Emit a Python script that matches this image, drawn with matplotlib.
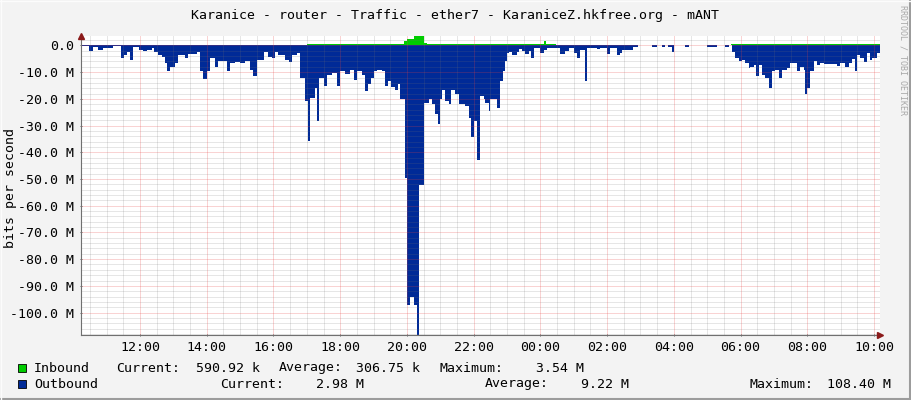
import matplotlib
matplotlib.use("Agg")
import matplotlib.pyplot as plt
import numpy as np
from matplotlib.patches import Rectangle
from matplotlib.lines import Line2D
from matplotlib.ticker import FixedLocator, FuncFormatter

# ---------------- data (hours since midnight of day 1, values in Mbit/s) -------------
title = "Karanice - router - Traffic - ether7 - KaraniceZ.hkfree.org - mANT"
x_start, x_end = 10.23, 34.18

out_t = [10.23, 10.48, 10.60, 10.75, 10.90, 11.20, 11.42, 11.53, 11.60, 11.70, 11.80, 11.98,
         12.10, 12.20, 12.35, 12.42, 12.55, 12.65, 12.75, 12.82, 12.90, 13.05, 13.15, 13.35,
         13.45, 13.70, 13.80, 13.90, 14.00, 14.10,
         14.25, 14.35, 14.60, 14.70, 14.85, 15.00, 15.15, 15.30, 15.40, 15.50, 15.73, 15.85,
         15.95, 16.05, 16.15, 16.35, 16.45, 16.55, 16.70, 16.80, 16.95, 17.03, 17.10, 17.23,
         17.30, 17.37, 17.50, 17.60, 17.75, 17.90, 18.00, 18.15,
         18.30, 18.42, 18.50, 18.65, 18.75, 18.82, 18.92, 19.02, 19.10, 19.25, 19.35, 19.42,
         19.52, 19.65, 19.72, 19.80, 19.93, 20.01, 20.10, 20.22, 20.29, 20.37, 20.52, 20.65,
         20.75, 20.85, 20.92, 21.00, 21.05, 21.15, 21.25, 21.32, 21.45, 21.55, 21.75, 21.85,
         21.92, 22.02, 22.10, 22.20, 22.30,
         22.35, 22.45, 22.50, 22.70, 22.80, 22.87, 22.95, 23.00, 23.05, 23.15, 23.30, 23.35,
         23.45, 23.55, 23.65, 23.72, 23.82, 24.00, 24.10, 24.20, 24.60, 24.75, 24.85, 25.00,
         25.10, 25.20, 25.33, 25.40, 25.70, 25.80, 26.00, 26.10, 26.30,
         26.39, 26.44, 26.79, 26.94, 27.34, 27.49, 27.64, 27.74, 27.84, 27.94, 28.01, 28.34,
         28.44, 28.99, 29.29, 29.54, 29.64, 29.74, 29.84, 29.94, 30.04, 30.14, 30.24,
         30.29, 30.39, 30.47, 30.54, 30.64, 30.74, 30.84, 30.94, 31.04, 31.14, 31.24, 31.39,
         31.49, 31.69, 31.79, 31.89, 31.94, 31.99, 32.09, 32.19, 32.29, 32.39, 32.49, 32.89,
         32.99, 33.14, 33.24, 33.34, 33.44, 33.49, 33.59, 33.69, 33.79, 33.87, 33.94, 34.09]
out_mbps = [0.3, 2.0, 0.5, 1.7, 0.8, 0.1, 4.8, 3.5, 2.3, 5.4, 0.5, 1.7,
            2.1, 1.7, 0.9, 2.3, 3.5, 4.2, 6.6, 9.4, 7.9, 6.6, 3.6, 4.6,
            3.3, 2.3, 9.7, 12.4, 9.7, 4.8,
            7.9, 6.0, 9.7, 6.6, 6.3, 6.6, 5.8, 9.1, 11.3, 5.4, 2.6, 4.2,
            4.8, 2.6, 3.6, 5.4, 6.3, 3.6, 3.0, 12.2, 20.8, 35.6, 19.6, 15.9,
            28.2, 12.2, 15.3, 11.0, 10.3, 15.3, 9.7, 10.7,
            9.1, 12.8, 9.7, 11.0, 17.1, 14.6, 12.2, 9.7, 9.1, 9.7, 15.3, 13.4,
            15.6, 16.5, 14.6, 20.2, 49.5, 97.0, 94.0, 97.0, 108.4, 52.4, 21.4, 20.2,
            22.0, 25.7, 29.4, 20.2, 16.5, 20.8, 22.0, 16.5, 18.3, 22.0, 22.6, 27.0,
            34.3, 28.2, 43.0, 19.0, 20.2,
            21.4, 24.5, 20.2, 23.3, 13.4, 9.7, 6.0, 3.0, 2.6, 3.6, 2.3, 1.4,
            2.1, 3.3, 2.1, 4.6, 1.1, 3.0, 1.7, 0.9, 3.3, 2.1, 0.9, 3.0,
            4.6, 1.7, 13.2, 0.9, 1.3, 0.9, 3.3, 1.1, 3.6,
            3.0, 1.7, 0.5, 0.0, 0.4, 0.0, 0.4, 0.0, 0.4, 2.3, 0.0, 0.4,
            0.0, 0.4, 0.0, 0.4, 0.0, 2.3, 4.8, 5.8, 5.4, 6.6, 8.5,
            8.2, 7.3, 11.6, 7.3, 11.0, 12.2, 15.9, 9.7, 9.1, 12.2, 9.1, 8.5,
            6.6, 9.7, 7.9, 9.1, 18.1, 15.9, 9.7, 6.0, 7.3, 6.6, 7.0, 7.6,
            6.6, 7.9, 6.6, 5.0, 9.7, 3.6, 4.6, 6.3, 3.0, 5.4, 4.8, 3.0]

in_t = [10.23, 11.20, 12.00, 13.00, 17.00, 19.90, 20.01, 20.22, 20.52, 20.60, 24.12, 24.18,
        24.42, 24.47, 26.94, 29.70]
in_mbps = [0.1, 0.25, 0.2, 0.3, 0.4, 1.5, 2.6, 3.54, 0.8, 0.45, 1.6, 0.4,
           0.6, 0.3, 0.0, 0.4]

legend_rows = [
    ("Inbound", "#00CC00", [("Current:", 116), ("590.92 k", 196), ("Average:", 279),
                             ("306.75 k", 356), ("Maximum:", 440), ("3.54 M", 536)]),
    ("Outbound", "#002A97", [("Current:", 220), ("2.98 M", 316), ("Average:", 485),
                              ("9.22 M", 581), ("Maximum:", 750), ("108.40 M", 827)]),
]

# ---------------- figure ----------------
W, H = 911, 400
MONO = "DejaVu Sans Mono"
plt.rcParams["font.family"] = MONO
fig = plt.figure(figsize=(W / 100, H / 100), dpi=100, facecolor="#F3F3F3")
L, R, T, B = 81, 880, 36, 335
ax = fig.add_axes([L / W, 1 - B / H, (R - L) / W, (B - T) / H])
ax.set_facecolor("white")

ot = np.array(out_t + [x_end])
ov = -np.array(out_mbps + [out_mbps[-1]])
it = np.array(in_t + [x_end])
iv = np.array(in_mbps + [in_mbps[-1]])

ax.fill_between(ot, ov, 0, step="post", color="#002A97", lw=0, zorder=2)
ax.fill_between(it, iv, 0, step="post", color="#00CC00", lw=0, zorder=2)

ax.set_xlim(x_start, x_end)
ax.set_ylim(-max(out_mbps), max(in_mbps))

# grid
minor_c = (0.45, 0.45, 0.45, 0.35)
major_c = (0.9, 0.25, 0.25, 0.45)
dot = (0, (1, 1))
for h in np.arange(10.5, x_end, 0.5):
    if abs(h % 2) < 1e-6:
        continue
    ax.axvline(h, color=minor_c, lw=0.72, ls=dot, zorder=3)
for v in np.arange(-108, 3.6, 2):
    if abs(v % 10) < 1e-6:
        continue
    ax.axhline(v, color=minor_c, lw=0.72, ls=dot, zorder=3)
for h in np.arange(12, x_end, 2):
    ax.axvline(h, color=major_c, lw=0.72, ls=dot, zorder=3)
for v in np.arange(-100, 1, 10):
    ax.axhline(v, color=major_c, lw=0.72, ls=dot, zorder=3)

ax.xaxis.set_major_locator(FixedLocator(np.arange(12, x_end, 2)))
ax.xaxis.set_major_formatter(FuncFormatter(lambda h, p: "%02d:00" % (int(round(h)) % 24)))
ax.yaxis.set_major_locator(FixedLocator(np.arange(-100, 1, 10)))
ax.yaxis.set_major_formatter(FuncFormatter(lambda v, p: "0.0" if abs(v) < 1e-9 else "%.1f M" % v))
ax.tick_params(axis="both", length=2, width=0.7, color="#606060", direction="inout",
               labelsize=9.5, labelcolor="black")
ax.tick_params(axis="x", pad=3)
ax.tick_params(axis="y", pad=4)

for s in ("top", "right"):
    ax.spines[s].set_visible(False)
for s in ("left", "bottom"):
    ax.spines[s].set_color("#707070")
    ax.spines[s].set_linewidth(0.8)
    ax.spines[s].set_zorder(4)

# arrows
ax.plot([1.0], [0.0], marker=">", ms=4, color="#8B1A1A", transform=ax.transAxes, clip_on=False, zorder=5)
ax.plot([0.0], [1.0], marker="^", ms=4, color="#8B1A1A", transform=ax.transAxes, clip_on=False, zorder=5)

# texts
fig.text(455 / W, 1 - 15 / H, title, ha="center", va="center", fontsize=9.5)
fig.text(11 / W, 1 - 188 / H, "bits per second", rotation=90, ha="center", va="center", fontsize=9.5)
fig.text(903 / W, 1 - 60 / H, "RRDTOOL / TOBI OETIKER", rotation=270, ha="center", va="center",
         fontsize=6, color="#A8A8A8")

for i, (name, col, items) in enumerate(legend_rows):
    yc = 368 + 16 * i
    fig.add_artist(Rectangle((18 / W, 1 - (yc + 4) / H), 8 / W, 8 / H, transform=fig.transFigure,
                             facecolor=col, edgecolor="black", lw=0.6))
    fig.text(34 / W, 1 - yc / H, name, ha="left", va="center", fontsize=9.5)
    for txt, xp in items:
        fig.text(xp / W, 1 - yc / H, txt, ha="left", va="center", fontsize=9.5)

# border
fig.add_artist(Line2D([0, 1], [1 / H, 1 / H], transform=fig.transFigure, color="#9C9C9C", lw=1.5))
fig.add_artist(Line2D([1 - 1 / W, 1 - 1 / W], [0, 1], transform=fig.transFigure, color="#9C9C9C", lw=1.5))
fig.add_artist(Line2D([0, 1], [1 - 0.5 / H, 1 - 0.5 / H], transform=fig.transFigure, color="#FCFCFC", lw=1))
fig.add_artist(Line2D([0.5 / W, 0.5 / W], [0, 1], transform=fig.transFigure, color="#FCFCFC", lw=1))

fig.savefig("out.png", dpi=100, facecolor=fig.get_facecolor())
